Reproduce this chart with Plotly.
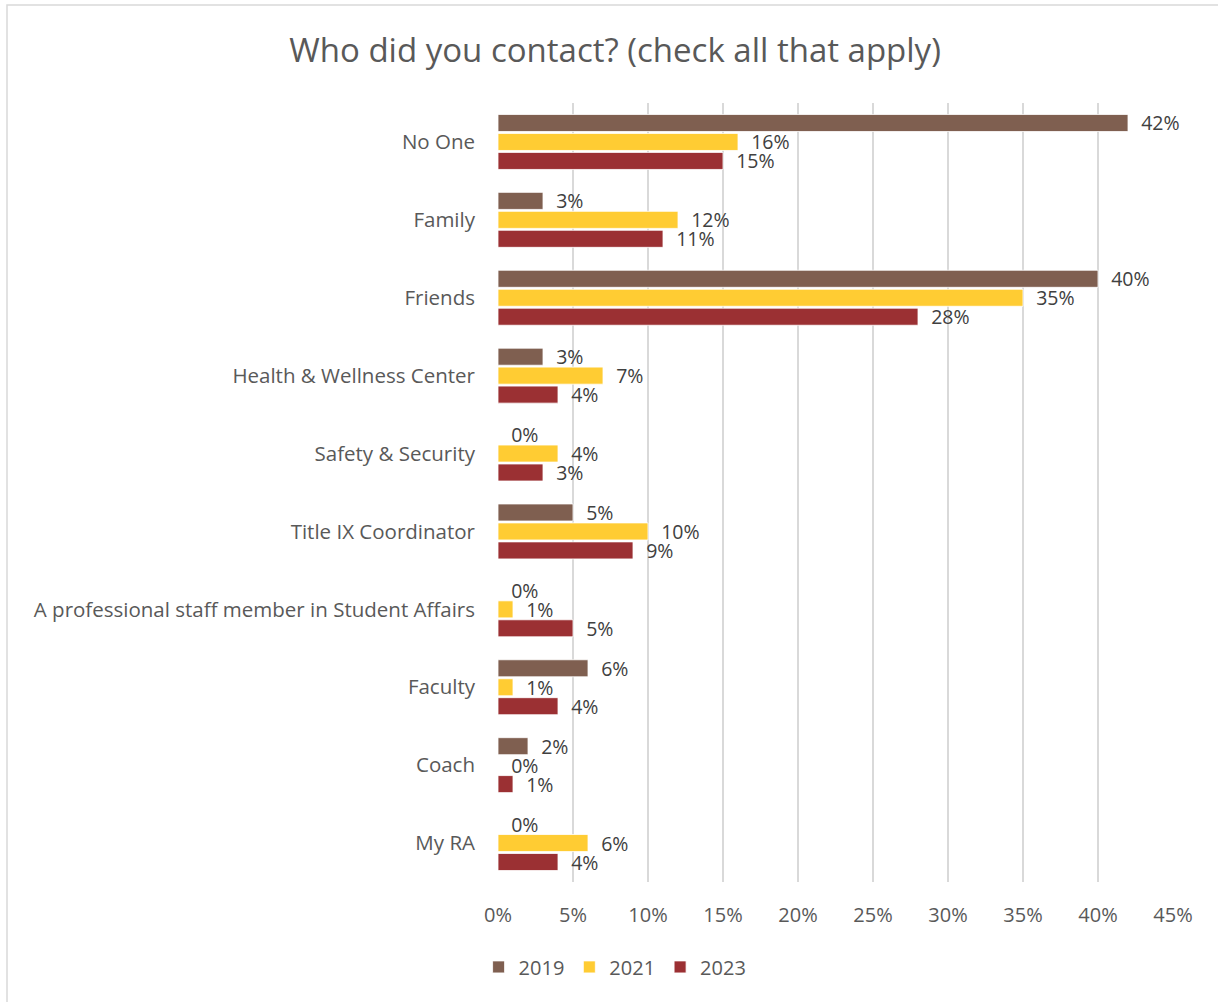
import plotly.graph_objects as go

categories = [
    "No One",
    "Family",
    "Friends",
    "Health & Wellness Center",
    "Safety & Security",
    "Title IX Coordinator",
    "A professional staff member in Student Affairs",
    "Faculty",
    "Coach",
    "My RA",
]
years = ["2019", "2021", "2023"]
values_2019 = [42, 3, 40, 3, 0, 5, 0, 6, 2, 0]
values_2021 = [16, 12, 35, 7, 4, 10, 1, 1, 0, 6]
values_2023 = [15, 11, 28, 4, 3, 9, 5, 4, 1, 4]
colors = ["#7F5F50", "#FFCC33", "#9B3033"]
x_ticks = [0, 5, 10, 15, 20, 25, 30, 35, 40, 45]

FONT = "'Open Sans', Lato, sans-serif"
TEXT = "#595959"
PAD = "\u00a0\u00a0"

fig = go.Figure()
for year, vals, col in zip(years, [values_2019, values_2021, values_2023], colors):
    fig.add_trace(go.Bar(
        y=categories,
        x=vals,
        name=year,
        orientation="h",
        marker=dict(color=col, line=dict(color="#ffffff", width=0.8)),
        text=[f"{PAD}{v}%" for v in vals],
        textposition="outside",
        constraintext="none",
        cliponaxis=False,
        textfont=dict(family=FONT, size=19.5, color="#404040"),
    ))

fig.update_layout(
    width=1218,
    height=1002,
    barmode="group",
    bargap=0.27,
    bargroupgap=0.1,
    paper_bgcolor="white",
    plot_bgcolor="white",
    margin=dict(l=498, r=45, t=103, b=120),
    title=dict(
        text="Who did you contact? (check all that apply)",
        x=0.505, xanchor="center", xref="container",
        y=0.95, yanchor="middle",
        font=dict(family=FONT, size=33, color=TEXT),
    ),
    font=dict(family=FONT, color=TEXT),
    legend=dict(
        orientation="h",
        x=0.505, xanchor="center", xref="container",
        y=0.035, yref="container", yanchor="middle",
        font=dict(family=FONT, size=20, color=TEXT),
        traceorder="normal",
        itemwidth=30,
        tracegroupgap=0,
    ),
    showlegend=True,
    xaxis=dict(
        range=[0, 45],
        tickvals=x_ticks,
        ticktext=[f"{t}%" for t in x_ticks],
        showgrid=True,
        gridcolor="#D9D9D9",
        gridwidth=1.5,
        zeroline=False,
        showline=False,
        tickfont=dict(family=FONT, size=20, color=TEXT),
        ticklabelstandoff=19,
    ),
    yaxis=dict(
        autorange="reversed",
        showgrid=False,
        zeroline=False,
        showline=False,
        tickfont=dict(family=FONT, size=20.5, color=TEXT),
        ticklabelstandoff=22,
    ),
    shapes=[dict(
        type="rect", xref="paper", yref="paper",
        x0=-491 / 675, x1=1.1, y0=-0.2, y1=1 + 98 / 779,
        line=dict(color="#D9D9D9", width=1.5),
        fillcolor="rgba(0,0,0,0)",
        layer="below",
    )],
)

fig.write_html("out.html")
